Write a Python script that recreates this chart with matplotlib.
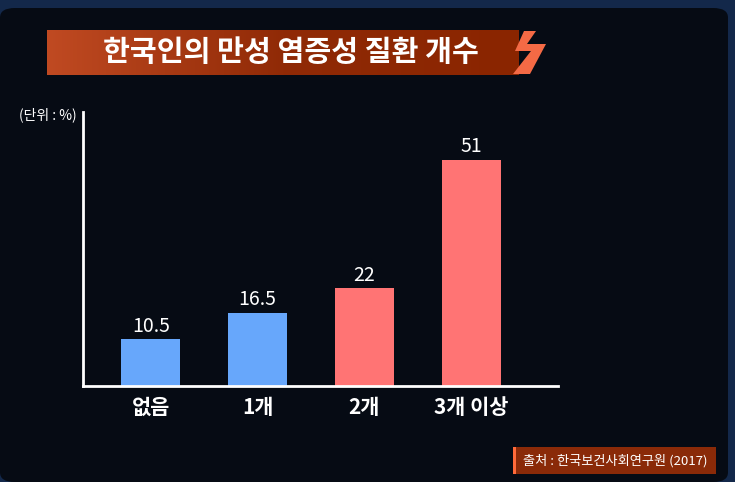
import matplotlib.pyplot as plt
import matplotlib.patches as mpatches
from matplotlib.colors import LinearSegmentedColormap
import numpy as np

plt.rcParams['font.family'] = ['Noto Sans CJK KR', 'DejaVu Sans']

categories = ['없음', '1개', '2개', '3개 이상']
values = [10.5, 16.5, 22, 51]
bar_colors = ['#67a7fb', '#67a7fb', '#ff7474', '#ff7474']

title = '한국인의 만성 염증성 질환 개수'
unit_label = '(단위 : %)'
source = '출처 : 한국보건사회연구원 (2017)'

W, H = 735, 482
fig = plt.figure(figsize=(W / 100, H / 100), dpi=100)
fig.patch.set_facecolor('#13284a')


def px(x, y):
    # pixel (top-left origin) -> figure fraction
    return x / W, 1 - y / H


# dark panel
bg = mpatches.FancyBboxPatch(px(0, 482), 728 / W, 474 / H,
                             boxstyle='round,pad=0,rounding_size=0.02',
                             transform=fig.transFigure, facecolor='#060b14',
                             edgecolor='none', zorder=-5)
fig.patches.append(bg)

# title banner with gradient
ban = fig.add_axes([47 / W, 1 - 75 / H, 472 / W, 45 / H], zorder=1)
grad = np.linspace(0, 1, 256).reshape(1, -1)
cmap = LinearSegmentedColormap.from_list('b', ['#c04a22', '#902a06', '#8a2500'])
ban.imshow(grad, aspect='auto', cmap=cmap, extent=[0, 1, 0, 1])
ban.set_axis_off()
fig.text(291 / W, 1 - 52 / H, title, color='white', fontsize=21,
         fontweight='black', ha='center', va='center', zorder=5)

# lightning mark
bolt = [px(524, 31), px(536, 31), px(527, 44), px(546, 44), px(530, 74),
        px(513, 74), px(531, 51), px(515, 51)]
fig.patches.append(mpatches.Polygon(bolt, closed=True, transform=fig.transFigure,
                                    facecolor='#f46a45', edgecolor='none', zorder=4))

# main chart
ax = fig.add_axes([83 / W, 1 - 386 / H, (558 - 83) / W, (386 - 112) / H], zorder=2)
ax.set_facecolor('none')
x = np.arange(len(categories))
bars = ax.bar(x, values, width=0.553, color=bar_colors, zorder=2)
ax.set_xlim(-0.637, 3.815)
ax.set_ylim(0, 61.8)
for b, v in zip(bars, values):
    ax.text(b.get_x() + b.get_width() / 2, v + 0.6, f'{v:g}', color='white',
            fontsize=14, fontweight='medium', ha='center', va='bottom')
ax.set_xticks(x)
ax.set_xticklabels(categories, color='white', fontsize=15, fontweight='bold')
ax.tick_params(axis='x', length=0, pad=8)
ax.set_yticks([])
for s in ['top', 'right']:
    ax.spines[s].set_visible(False)
for s in ['left', 'bottom']:
    ax.spines[s].set_color('white')
    ax.spines[s].set_linewidth(2)

fig.text(77 / W, 1 - 115 / H, unit_label, color='white', fontsize=10,
         ha='right', va='center')

# source box
fig.patches.append(mpatches.Rectangle(px(513, 474), 203 / W, 27 / H,
                                      transform=fig.transFigure,
                                      facecolor='#8a2a08', edgecolor='none', zorder=1))
fig.patches.append(mpatches.Rectangle(px(513, 474), 3 / W, 27 / H,
                                      transform=fig.transFigure,
                                      facecolor='#ff6a3a', edgecolor='none', zorder=1))
fig.text(523 / W, 1 - 461 / H, source, color='white', fontsize=9.5,
         ha='left', va='center', zorder=5)

fig.savefig('out.png', dpi=100, facecolor=fig.get_facecolor())
